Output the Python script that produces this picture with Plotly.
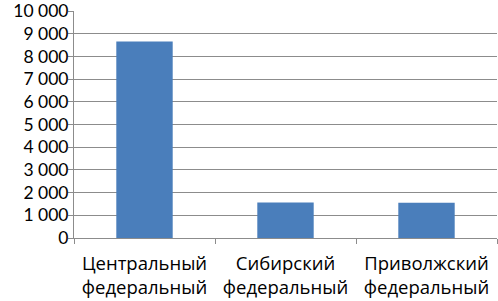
import plotly.graph_objects as go

categories = ["Центральный<br>федеральный", "Сибирский<br>федеральный", "Приволжский<br>федеральный"]
values = [8660, 1565, 1550]
y_ticks = [0, 1000, 2000, 3000, 4000, 5000, 6000, 7000, 8000, 9000, 10000]

fig = go.Figure(go.Bar(x=categories, y=values, marker=dict(color="#4a7ebb", line=dict(width=0)), width=0.4))

fig.update_layout(
    width=498, height=301,
    margin=dict(l=74, r=1, t=11, b=63, autoexpand=False),
    plot_bgcolor="white", paper_bgcolor="white",
    separators=", ",
    font=dict(family="Open Sans, sans-serif", size=17, color="#000000"),
    showlegend=False,
    bargap=0.6,
)
fig.update_yaxes(
    range=[0, 10000], tickvals=y_ticks, tickformat=",d",
    showgrid=True, gridcolor="#8c8c8c", gridwidth=1,
    showline=True, linecolor="#8c8c8c", linewidth=1,
    ticks="outside", ticklen=5, tickcolor="#8c8c8c",
    zeroline=False, fixedrange=True, automargin=False,
    ticklabelstandoff=-4, ticklabeloverflow="allow",
    tickfont=dict(family="Lato, sans-serif", size=17.5),
)
fig.update_xaxes(
    showline=True, linecolor="#8c8c8c", linewidth=1,
    ticks="outside", ticklen=5, tickcolor="#8c8c8c", tickson="boundaries",
    showgrid=False, fixedrange=True, automargin=False,
    ticklabelstandoff=9, ticklabeloverflow="allow",
    tickfont=dict(family="Open Sans, sans-serif", size=18.5),
)
fig.write_html("out.html", config={"displayModeBar": False},
               post_script="document.body.style.margin='0';document.body.style.padding='0';")
